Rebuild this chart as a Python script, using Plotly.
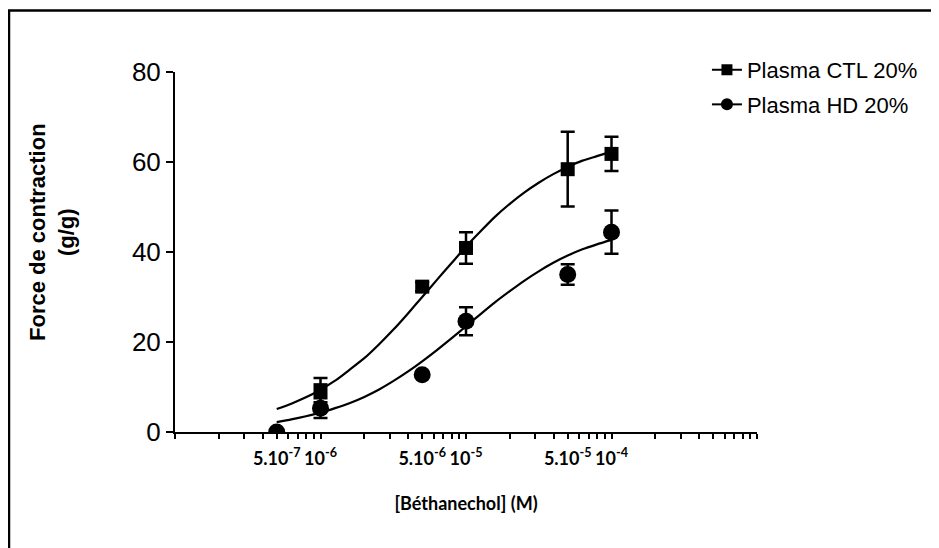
import plotly.graph_objects as go

# ---- data ----
conc = [5e-7, 1e-6, 5e-6, 1e-5, 5e-5, 1e-4]
ctl_conc = [1e-6, 5e-6, 1e-5, 5e-5, 1e-4]
ctl_mean = [9.3, 32.3, 40.9, 58.4, 61.8]
ctl_sem = [2.7, 1.0, 3.5, 8.3, 3.8]
hd_mean = [0.0, 5.3, 12.7, 24.6, 35.0, 44.4]
hd_sem = [0.0, 2.2, 0.5, 3.1, 2.3, 4.8]

# fitted curves
curve_conc = [5e-7, 6.3e-7, 7.94e-7, 1e-6, 1.26e-6, 1.58e-6, 2e-6, 2.51e-6, 3.16e-6, 3.98e-6,
              5e-6, 6.31e-6, 7.94e-6, 1e-5, 1.26e-5, 1.58e-5, 2e-5, 2.51e-5, 3.16e-5, 3.98e-5,
              5e-5, 6.31e-5, 7.94e-5, 1e-4]
ctl_curve = [5.1, 6.3, 7.7, 9.4, 11.4, 13.8, 16.4, 19.4, 22.7, 26.3,
             30.0, 33.8, 37.5, 41.2, 44.6, 47.8, 50.7, 53.2, 55.4, 57.3,
             58.9, 60.3, 61.3, 62.3]
hd_curve = [2.2, 2.8, 3.5, 4.3, 5.3, 6.4, 7.8, 9.4, 11.3, 13.4,
            15.7, 18.2, 20.8, 23.5, 26.2, 28.8, 31.3, 33.6, 35.7, 37.6,
            39.2, 40.6, 41.7, 42.7]

labelled_ticks = [5e-7, 1e-6, 5e-6, 1e-5, 5e-5, 1e-4]
labelled_text = ["5.10<sup>-7</sup>", "10<sup>-6</sup>", "5.10<sup>-6</sup>",
                 "10<sup>-5</sup>", "5.10<sup>-5</sup>", "10<sup>-4</sup>"]
y_ticks = [0, 20, 40, 60, 80]
series_names = ["Plasma CTL 20%", "Plasma HD 20%"]

# minor tick positions 1..9 x 10^k
tickvals, ticktext = [], []
for k in range(-7, -3):
    for m in range(1, 10):
        v = m * 10.0 ** k
        tickvals.append(v)
        lab = ""
        for lv, lt in zip(labelled_ticks, labelled_text):
            if abs(lv - v) / lv < 1e-6:
                lab = "<b>" + lt + "</b>"
        ticktext.append(lab)
tickvals.append(1e-3)
ticktext.append("")

fig = go.Figure()

fig.add_trace(go.Scatter(x=curve_conc, y=ctl_curve, mode="lines",
                         line=dict(color="black", width=2.2, shape="spline", smoothing=0.6),
                         showlegend=False, hoverinfo="skip"))
fig.add_trace(go.Scatter(x=curve_conc, y=hd_curve, mode="lines",
                         line=dict(color="black", width=2.2, shape="spline", smoothing=0.6),
                         showlegend=False, hoverinfo="skip"))

fig.add_trace(go.Scatter(x=ctl_conc, y=ctl_mean, mode="markers",
                         marker=dict(symbol="square", size=14, color="black"),
                         error_y=dict(type="data", array=ctl_sem, color="black", thickness=2.5, width=7),
                         showlegend=False, cliponaxis=True))
fig.add_trace(go.Scatter(x=conc, y=hd_mean, mode="markers",
                         marker=dict(symbol="circle", size=17, color="black"),
                         error_y=dict(type="data", array=hd_sem, color="black", thickness=2.5, width=7),
                         showlegend=False, cliponaxis=True))

# legend entries
fig.add_trace(go.Scatter(x=[None], y=[None], mode="lines+markers", name=series_names[0], legendgroup="a",
                         marker=dict(symbol="square", size=11, color="black"), line=dict(color="black", width=2)))
fig.add_trace(go.Scatter(x=[None], y=[None], mode="lines+markers", name=series_names[1], legendgroup="b",
                         marker=dict(symbol="circle", size=12, color="black"), line=dict(color="black", width=2)))

W, H = 931, 540
L, T, PW, PH = 167, 64, 582, 360

fig.update_layout(
    width=W, height=H,
    margin=dict(l=L, r=W - L - PW, t=T, b=H - T - PH),
    paper_bgcolor="white", plot_bgcolor="white",
    legend=dict(x=0.914, y=1.064, xanchor="left", yanchor="top",
                font=dict(family="Liberation Sans, Arial", size=22, color="black"),
                tracegroupgap=3, bgcolor="rgba(0,0,0,0)"),
    xaxis=dict(type="log", range=[-7, -3], tickmode="array", tickvals=tickvals, ticktext=ticktext,
               ticks="outside", ticklen=5, tickwidth=2, tickcolor="black",
               showline=True, linecolor="black", linewidth=2, showgrid=False, zeroline=False,
               ticklabelstandoff=4,
               tickfont=dict(family="Lato, Open Sans", size=18, color="black"),
               title=dict(text="<b>[Béthanechol] (M)</b>", font=dict(family="Lato, Open Sans", size=18, color="black"),
                          standoff=30)),
    yaxis=dict(range=[0, 80], tickmode="array", tickvals=y_ticks,
               ticks="outside", ticklen=7, tickwidth=2, tickcolor="black",
               showline=True, linecolor="black", linewidth=2, showgrid=False, zeroline=False,
               tickfont=dict(family="Liberation Sans, Arial", size=26, color="black")),
)

fig.add_annotation(text="<b>Force de contraction<br>(g/g)</b>", textangle=-90,
                   xref="paper", yref="paper", x=(44 - L) / PW, y=(T + PH - 224) / PH,
                   xanchor="center", yanchor="middle", showarrow=False,
                   font=dict(family="Liberation Sans, Arial", size=22, color="black"))

# outer frame (only left and top edges visible in the reference)
fig.add_shape(type="rect", xref="paper", yref="paper",
              x0=(1 - L) / PW, x1=(960 - L) / PW,
              y0=(T + PH - 570) / PH, y1=(T + PH - 2.5) / PH,
              line=dict(color="black", width=2.5), fillcolor="rgba(0,0,0,0)", layer="below")

fig.write_html("out.html")
